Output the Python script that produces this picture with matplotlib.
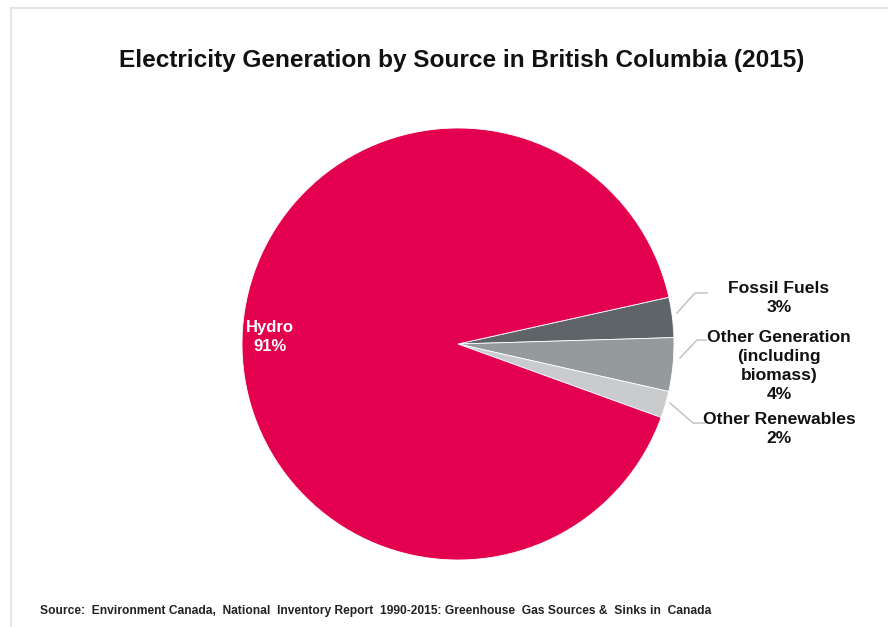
import matplotlib.pyplot as plt
from matplotlib.patches import Rectangle

plt.rcParams['font.family'] = ['Liberation Sans', 'DejaVu Sans']

# data
sources = ["Fossil Fuels", "Other Generation\n(including\nbiomass)", "Other Renewables", "Hydro"]
shares = [3, 4, 2, 91]
colores = ["#5E6468", "#959A9D", "#C9CBCD", "#E2004F"]

fig = plt.figure(figsize=(8.88, 6.27), dpi=100)
ax = fig.add_axes([0, 0, 1, 1])

# pie in pixel units (y up)
cx, cy, r = 458, 627 - 344, 216
wedges, _ = ax.pie(shares, colors=colores, startangle=12.5, counterclock=False,
                   center=(cx, cy), radius=r, frame=True,
                   wedgeprops=dict(edgecolor='white', linewidth=0.6))
ax.set_xlim(0, 888)
ax.set_ylim(0, 627)
ax.set_aspect('equal')
ax.axis('off')

# frame of the picture (only top and left visible)
fig.patches.append(Rectangle((11 / 888, -0.1), 1.2, 1.1 - 8 / 627, transform=fig.transFigure,
                             fill=False, edgecolor='#E4E4E4', linewidth=1.5))

# title
ax.text(462, 627 - 60, "Electricity Generation by Source in British Columbia (2015)",
        ha='center', va='center', fontsize=17.6, fontweight='bold', color='#111111')

# hydro label inside
ax.text(270, 627 - 337, f"{sources[3]}\n{shares[3]}%", ha='center', va='center',
        fontsize=12, fontweight='bold', color='white', linespacing=1.4)

# outside labels with leader lines
etiquetas_y = [298, 366, 429]
lineas = [
    [(677, 313), (695, 293), (707, 293)],
    [(680, 358), (697, 340), (706, 340)],
    [(670, 403), (693, 423), (705, 423)],
]
for nombre, valor, ly, pts in zip(sources[:3], shares[:3], etiquetas_y, lineas):
    ax.text(779, 627 - ly, f"{nombre}\n{valor}%", ha='center', va='center',
            fontsize=12.6, fontweight='bold', color='#111111', linespacing=1.36)
    xs = [p[0] for p in pts]
    ys = [627 - p[1] for p in pts]
    ax.plot(xs, ys, color='#BDBDBD', linewidth=1)

# source note
ax.text(40, 627 - 611,
        "Source:  Environment Canada,  National  Inventory Report  1990-2015: Greenhouse  Gas Sources &  Sinks in  Canada",
        ha='left', va='center', fontsize=8.65, fontweight='bold', color='#222222')

fig.savefig("out.png", dpi=100)
